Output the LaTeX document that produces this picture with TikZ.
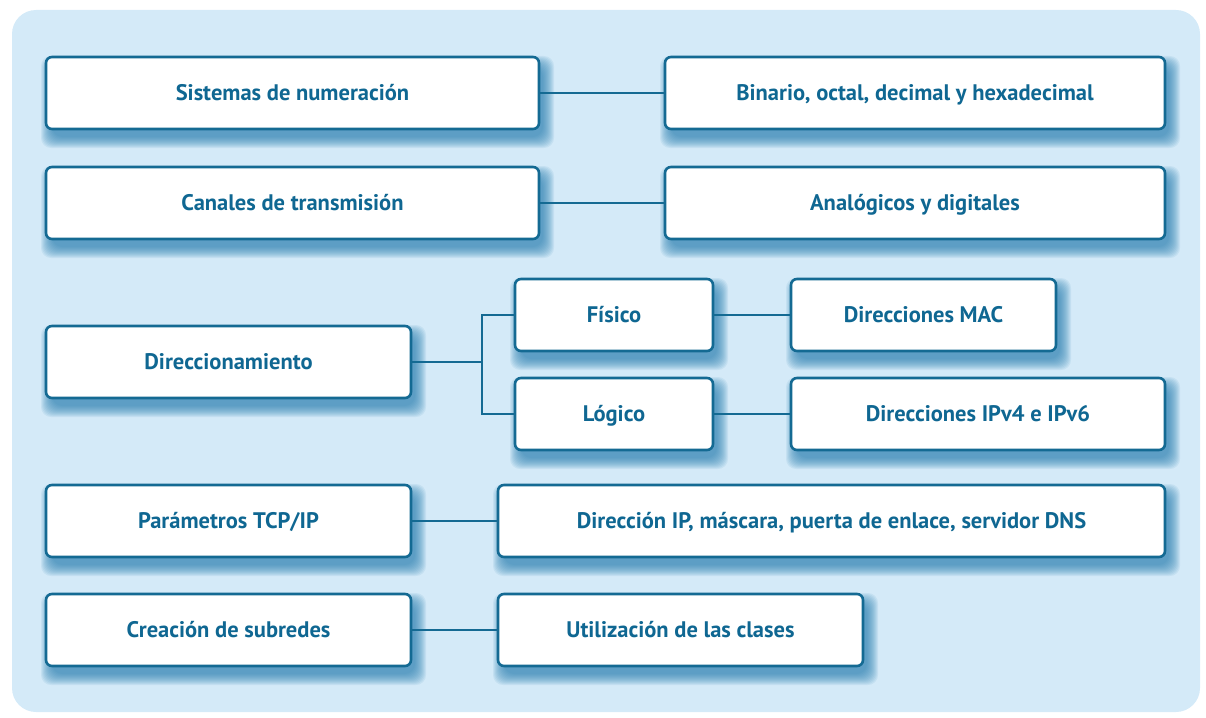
\documentclass[tikz,border=0pt]{standalone}
\usepackage{fontspec}
\setmainfont{PT Sans}
\definecolor{bg}{HTML}{D4EAF8}
\definecolor{edge}{HTML}{146A93}
\definecolor{txt}{HTML}{0F6792}
\definecolor{shd}{HTML}{2A7FB3}
\tikzset{
  box/.style={draw=edge, line width=2.6pt, rounded corners=6pt, fill=white,
    text=txt, font=\bfseries\fontsize{22.5}{26}\selectfont, text depth=1.5pt},
  shadowlayer/.style={fill=shd, fill opacity=0.09, rounded corners=10pt},
  link/.style={draw=edge, line width=1.2pt}
}
\newcommand{\bx}[6]{%
  \foreach \e in {12,11,...,1}{\fill[shadowlayer] ({#2+5-\e+2},{#3+9-\e+2}) rectangle ({#4+5+\e-2},{#5+9+\e-2});}
  \node[box, minimum width=#4-#2, minimum height=#5-#3] (#1) at ({(#2+#4)/2},{(#3+#5)/2}) {#6};}
\begin{document}
\begin{tikzpicture}[x=1pt,y=-1pt]
\useasboundingbox (0,0) rectangle (1206,717);
\fill[bg, rounded corners=24pt] (12,10) rectangle (1200,712);
\bx{sis}{46}{57}{539}{129}{Sistemas de numeración}
\bx{bin}{665}{57}{1165}{129}{Binario, octal, decimal y hexadecimal}
\bx{can}{46}{167}{539}{239}{Canales de transmisión}
\bx{ana}{665}{167}{1165}{239}{Analógicos y digitales}
\bx{dir}{46}{326}{411}{398}{Direccionamiento}
\bx{fis}{515}{279}{713}{351}{Físico}
\bx{log}{515}{378}{713}{450}{Lógico}
\bx{mac}{791}{279}{1056}{351}{Direcciones MAC}
\bx{ipv}{791}{378}{1165}{450}{Direcciones IPv4 e IPv6}
\bx{par}{46}{485}{411}{557}{Parámetros TCP/IP}
\bx{dip}{498}{485}{1165}{557}{Dirección IP, máscara, puerta de enlace, servidor DNS}
\bx{cre}{46}{594}{411}{666}{Creación de subredes}
\bx{uti}{498}{594}{863}{666}{Utilización de las clases}
\coordinate (j) at (482,362);
\draw[link] (sis.east) -- (bin.west);
\draw[link] (can.east) -- (ana.west);
\draw[link] (fis.east) -- (mac.west);
\draw[link] (log.east) -- (ipv.west);
\draw[link] (par.east) -- (dip.west);
\draw[link] (cre.east) -- (uti.west);
\draw[link] (dir.east) -- (j);
\draw[link] (fis.west) -| (j) |- (log.west);
\end{tikzpicture}
\end{document}
